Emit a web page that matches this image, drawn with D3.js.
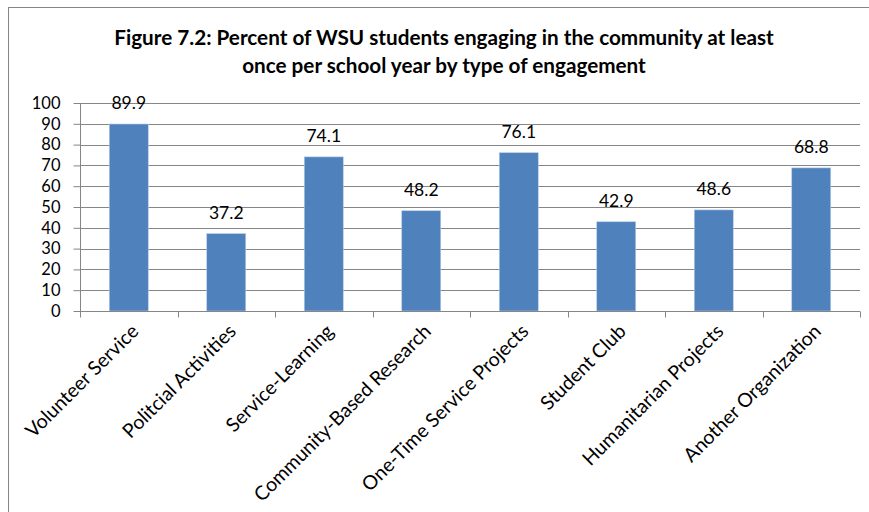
<!DOCTYPE html>
<html>
<head>
<meta charset="utf-8">
<script src="https://cdn.jsdelivr.net/npm/d3@7/dist/d3.min.js"></script>
<style>
  html, body { margin: 0; padding: 0; background: #fff; }
  svg { display: block; }
  text { font-family: Lato, "Open Sans", sans-serif; fill: #000; }
</style>
</head>
<body>
<svg id="chart" width="869" height="512"></svg>
<script>
// Engagement categories and percent of students
const categories = [
  "Volunteer Service",
  "Politcial Activities",
  "Service-Learning",
  "Community-Based Research",
  "One-Time Service Projects",
  "Student Club",
  "Humanitarian Projects",
  "Another Organization"
];
const percents = [89.9, 37.2, 74.1, 48.2, 76.1, 42.9, 48.6, 68.8];
const yTicks = [0, 10, 20, 30, 40, 50, 60, 70, 80, 90, 100];
const titleLines = [
  "Figure 7.2: Percent of WSU students engaging in the community at least",
  "once per school year by type of engagement"
];

const svg = d3.select("#chart");
const W = 869, H = 512;
const plot = { left: 80, right: 860, top: 103, bottom: 311 };

// outer frame
svg.append("rect")
  .attr("x", 8.5).attr("y", 7.5)
  .attr("width", W + 10).attr("height", H + 10)
  .attr("fill", "#fff").attr("stroke", "#868686").attr("stroke-width", 1);

// title
svg.append("g").selectAll("text")
  .data(titleLines).join("text")
  .attr("x", 444).attr("y", (d, i) => 44.5 + i * 28.5)
  .attr("text-anchor", "middle")
  .attr("font-weight", "bold").attr("font-size", 20.7)
  .text(d => d);

const x = d3.scaleBand().domain(categories).range([plot.left, plot.right]).padding(0);
const y = d3.scaleLinear().domain([0, 100]).range([plot.bottom, plot.top]);

// gridlines
svg.append("g").selectAll("line")
  .data(yTicks.filter(t => t > 0)).join("line")
  .attr("x1", plot.left).attr("x2", plot.right)
  .attr("y1", d => Math.round(y(d)) + 0.5).attr("y2", d => Math.round(y(d)) + 0.5)
  .attr("stroke", "#868686").attr("stroke-width", 1);

// bars
const barFrac = 0.4;
svg.append("g").selectAll("rect")
  .data(percents).join("rect")
  .attr("x", (d, i) => x(categories[i]) + x.bandwidth() * (1 - barFrac) / 2)
  .attr("width", x.bandwidth() * barFrac)
  .attr("y", d => y(d))
  .attr("height", d => y(0) - y(d))
  .attr("fill", "#4F81BD")
  .attr("stroke", "#B9CDE5").attr("stroke-width", 0.6);

// value labels
svg.append("g").selectAll("text")
  .data(percents).join("text")
  .attr("x", (d, i) => x(categories[i]) + x.bandwidth() / 2)
  .attr("y", d => y(d) - 15)
  .attr("text-anchor", "middle")
  .attr("font-size", 17.5)
  .text(d => d.toFixed(1));

// y axis
const yAxis = svg.append("g")
  .attr("transform", `translate(${plot.left + 0.5},0)`)
  .call(d3.axisLeft(y).tickValues(yTicks).tickSize(7).tickPadding(13).tickFormat(d3.format("d")));
yAxis.selectAll("line, path").attr("stroke", "#868686");
yAxis.select(".domain").attr("d", `M0,${plot.top}V${plot.bottom}`);
yAxis.selectAll("text").attr("font-size", 16.5).attr("font-family", "Lato, sans-serif").attr("fill", "#000");

// x axis with ticks at category boundaries
const xAxisG = svg.append("g").attr("transform", `translate(0,${plot.bottom + 0.5})`);
xAxisG.append("line")
  .attr("x1", plot.left).attr("x2", plot.right)
  .attr("stroke", "#868686");
const bounds = categories.map(c => x(c)).concat([plot.right]);
xAxisG.selectAll("line.tick").data(bounds).join("line")
  .attr("class", "tick")
  .attr("x1", d => Math.round(d) + 0.5).attr("x2", d => Math.round(d) + 0.5)
  .attr("y1", 0).attr("y2", 6)
  .attr("stroke", "#868686");

// rotated category labels
xAxisG.selectAll("text").data(categories).join("text")
  .attr("transform", d => `translate(${x(d) + x.bandwidth() / 2 + 11},${21}) rotate(-45)`)
  .attr("text-anchor", "end")
  .attr("font-size", 19.5)
  .text(d => d);
</script>
</body>
</html>
